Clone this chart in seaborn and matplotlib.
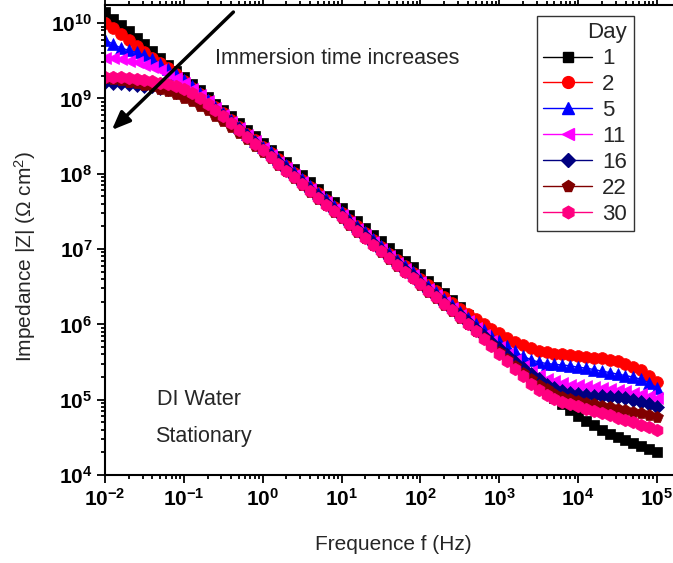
import numpy as np
import pandas as pd
import matplotlib
matplotlib.use('Agg')
import matplotlib.pyplot as plt
from matplotlib.ticker import FixedLocator, FuncFormatter, LogLocator, NullFormatter
from matplotlib.lines import Line2D
import seaborn as sns

# ── Data: 10 points / decade, 10 mHz .. 100 kHz ─────────────
freq_hz = np.logspace(-2, 5, 71)

# log10 |Z|
logz_day1 = [10.15, 10.06, 9.98, 9.89, 9.80, 9.72, 9.63, 9.54, 9.45, 9.37,
             9.28, 9.19, 9.11, 9.02, 8.93, 8.85, 8.76, 8.67, 8.58, 8.50,
             8.41, 8.32, 8.24, 8.15, 8.06, 7.98, 7.89, 7.80, 7.71, 7.63,
             7.54, 7.45, 7.37, 7.28, 7.19, 7.11, 7.02, 6.93, 6.84, 6.76,
             6.67, 6.58, 6.50, 6.41, 6.32, 6.23, 6.13, 6.03, 5.93, 5.82,
             5.72, 5.61, 5.51, 5.40, 5.30, 5.20, 5.11, 5.02, 4.94, 4.86,
             4.78, 4.72, 4.66, 4.60, 4.55, 4.50, 4.46, 4.42, 4.38, 4.34, 4.31]
logz_day2 = [10.00, 9.93, 9.86, 9.78, 9.70, 9.62, 9.54, 9.47, 9.40, 9.32,
             9.23, 9.14, 9.06, 8.97, 8.88, 8.80, 8.71, 8.62, 8.53, 8.45,
             8.36, 8.28, 8.19, 8.10, 8.01, 7.92, 7.83, 7.74, 7.65, 7.56,
             7.48, 7.39, 7.30, 7.21, 7.12, 7.03, 6.94, 6.85, 6.77, 6.68,
             6.60, 6.52, 6.44, 6.36, 6.29, 6.21, 6.14, 6.07, 6.00, 5.94,
             5.89, 5.82, 5.76, 5.72, 5.68, 5.65, 5.63, 5.61, 5.60, 5.59,
             5.58, 5.57, 5.56, 5.55, 5.53, 5.51, 5.48, 5.44, 5.39, 5.32, 5.24]
logz_day5 = [9.78, 9.72, 9.67, 9.64, 9.61, 9.57, 9.52, 9.46, 9.39, 9.32,
             9.24, 9.16, 9.07, 8.98, 8.89, 8.80, 8.71, 8.62, 8.53, 8.44,
             8.36, 8.29, 8.20, 8.11, 8.02, 7.93, 7.84, 7.75, 7.66, 7.57,
             7.49, 7.40, 7.31, 7.22, 7.13, 7.04, 6.95, 6.86, 6.77, 6.69,
             6.60, 6.51, 6.43, 6.34, 6.26, 6.17, 6.08, 6.00, 5.92, 5.85,
             5.78, 5.71, 5.64, 5.58, 5.53, 5.50, 5.48, 5.47, 5.46, 5.45,
             5.43, 5.42, 5.40, 5.38, 5.36, 5.34, 5.32, 5.30, 5.27, 5.22, 5.16]
logz_day11 = [9.54, 9.53, 9.52, 9.50, 9.48, 9.45, 9.42, 9.38, 9.33, 9.27,
              9.20, 9.12, 9.04, 8.96, 8.87, 8.78, 8.69, 8.61, 8.52, 8.43,
              8.34, 8.25, 8.16, 8.07, 7.98, 7.89, 7.80, 7.71, 7.62, 7.53,
              7.45, 7.36, 7.27, 7.18, 7.09, 7.00, 6.91, 6.82, 6.73, 6.65,
              6.56, 6.47, 6.39, 6.30, 6.22, 6.13, 6.04, 5.95, 5.86, 5.78,
              5.70, 5.61, 5.53, 5.45, 5.38, 5.33, 5.28, 5.25, 5.22, 5.20,
              5.19, 5.18, 5.17, 5.16, 5.14, 5.13, 5.11, 5.09, 5.07, 5.05, 5.02]
logz_day16 = [9.22, 9.21, 9.20, 9.19, 9.18, 9.17, 9.16, 9.14, 9.12, 9.09,
              9.06, 9.02, 8.97, 8.91, 8.84, 8.76, 8.68, 8.59, 8.50, 8.41,
              8.32, 8.24, 8.15, 8.06, 7.97, 7.88, 7.79, 7.70, 7.61, 7.52,
              7.44, 7.35, 7.26, 7.17, 7.08, 6.99, 6.90, 6.81, 6.72, 6.64,
              6.55, 6.46, 6.38, 6.29, 6.21, 6.12, 6.03, 5.94, 5.85, 5.76,
              5.68, 5.59, 5.50, 5.42, 5.34, 5.27, 5.20, 5.15, 5.11, 5.09,
              5.07, 5.06, 5.05, 5.05, 5.04, 5.03, 5.02, 5.00, 4.97, 4.94, 4.90]
logz_day22 = [9.27, 9.26, 9.24, 9.22, 9.20, 9.18, 9.16, 9.13, 9.10, 9.06,
              9.01, 8.96, 8.90, 8.84, 8.77, 8.70, 8.62, 8.54, 8.46, 8.37,
              8.29, 8.21, 8.12, 8.03, 7.94, 7.85, 7.76, 7.67, 7.58, 7.49,
              7.41, 7.32, 7.23, 7.14, 7.05, 6.96, 6.87, 6.78, 6.69, 6.61,
              6.52, 6.43, 6.35, 6.26, 6.18, 6.09, 6.00, 5.91, 5.82, 5.72,
              5.63, 5.54, 5.45, 5.36, 5.28, 5.20, 5.14, 5.08, 5.04, 5.01,
              4.98, 4.96, 4.94, 4.92, 4.90, 4.88, 4.86, 4.84, 4.82, 4.80, 4.77]
logz_day30 = [9.29, 9.29, 9.28, 9.27, 9.26, 9.25, 9.23, 9.21, 9.19, 9.16,
              9.12, 9.07, 9.01, 8.93, 8.85, 8.76, 8.67, 8.58, 8.49, 8.40,
              8.31, 8.22, 8.13, 8.04, 7.95, 7.86, 7.77, 7.68, 7.59, 7.50,
              7.42, 7.33, 7.24, 7.15, 7.06, 6.97, 6.88, 6.79, 6.70, 6.62,
              6.53, 6.44, 6.36, 6.27, 6.19, 6.10, 6.01, 5.91, 5.81, 5.71,
              5.61, 5.51, 5.41, 5.31, 5.21, 5.13, 5.06, 5.01, 4.97, 4.94,
              4.91, 4.88, 4.85, 4.82, 4.79, 4.76, 4.73, 4.70, 4.67, 4.64, 4.60]

days = ['1', '2', '5', '11', '16', '22', '30']
series = [logz_day1, logz_day2, logz_day5, logz_day11, logz_day16, logz_day22, logz_day30]
colors = ['#000000', '#FF0000', '#0000FF', '#FF00FF', '#000080', '#800000', '#FF0080']
markers = ['s', 'o', '^', '<', 'D', 'p', 'h']
msizes = [7.5, 8.5, 8.5, 8.5, 7.0, 8.5, 9.0]

# ── Style ──────────────────────────────────────────────────
sns.set_style('ticks')
plt.rcParams['font.family'] = ['Liberation Sans', 'DejaVu Sans']
plt.rcParams['mathtext.fontset'] = 'custom'
plt.rcParams['mathtext.rm'] = 'Liberation Sans'
plt.rcParams['mathtext.bf'] = 'Liberation Sans:bold'
plt.rcParams['mathtext.it'] = 'Liberation Sans:italic'

fig = plt.figure(figsize=(6.73, 5.63), dpi=100)
ax = fig.add_axes([105 / 673, 88 / 563, 568 / 673, 470 / 563])

for day, lz, c, m, ms in zip(days, series, colors, markers, msizes):
    df = pd.DataFrame({'f': freq_hz, 'z': 10 ** np.array(lz)})
    sns.lineplot(data=df, x='f', y='z', ax=ax, color=c, marker=m,
                 markersize=ms, markeredgecolor=c, markeredgewidth=0.5,
                 linewidth=1, sort=False, legend=False)

ax.set_xscale('log')
ax.set_yscale('log')
ax.set_xlim(1e-2, 10 ** 5.203)
ax.set_ylim(1e4, 10 ** 10.24)

bold_pow = FuncFormatter(lambda v, p: r'$\mathbf{10^{%d}}$' % round(np.log10(v)))
ax.xaxis.set_major_locator(FixedLocator([10.0 ** k for k in range(-2, 6)]))
ax.yaxis.set_major_locator(FixedLocator([10.0 ** k for k in range(4, 11)]))
ax.xaxis.set_major_formatter(bold_pow)
ax.yaxis.set_major_formatter(bold_pow)
for axis in (ax.xaxis, ax.yaxis):
    axis.set_minor_locator(LogLocator(base=10, subs=np.arange(2, 10), numticks=30))
    axis.set_minor_formatter(NullFormatter())

ax.tick_params(which='both', direction='out', top=True, right=False,
               width=1.3, colors='black', labelsize=15, pad=3)
ax.tick_params(which='major', length=6)
ax.tick_params(which='minor', length=3)
for side in ('left', 'bottom', 'top'):
    ax.spines[side].set_linewidth(1.5)
    ax.spines[side].set_color('black')
ax.spines['right'].set_visible(False)

ax.set_xlabel('Frequence f (Hz)', fontsize=15)
ax.set_ylabel('Impedance |Z| (Ω cm$^2$)', fontsize=15)
ax.xaxis.set_label_coords(0.507, -0.128)
ax.yaxis.set_label_coords(-0.118, 0.464)

# ── Annotations ────────────────────────────────────────────
ax.annotate('', xy=(0.012, 0.734), xytext=(0.226, 0.985),
            xycoords='axes fraction', textcoords='axes fraction',
            arrowprops=dict(arrowstyle='-|>,head_length=1.1,head_width=0.45',
                            color='black', lw=2.5, shrinkA=0, shrinkB=0))
ax.text(0.194, 0.887, 'Immersion time increases', transform=ax.transAxes,
        fontsize=15.5, va='center', ha='left')
ax.text(0.092, 0.160, 'DI Water', transform=ax.transAxes,
        fontsize=15.5, va='center', ha='left')
ax.text(0.088, 0.081, 'Stationary', transform=ax.transAxes,
        fontsize=15.5, va='center', ha='left')

# ── Legend ─────────────────────────────────────────────────
handles = [Line2D([], [], color=c, marker=m, markersize=ms, markeredgecolor=c,
                  linewidth=1) for c, m, ms in zip(colors, markers, msizes)]
leg = ax.legend(handles, days, title='Day', loc='upper right',
                bbox_to_anchor=(0.931, 0.977), borderaxespad=0,
                fontsize=16, title_fontsize=16, alignment='right',
                frameon=True, fancybox=False, edgecolor='black',
                handlelength=2.2, handletextpad=0.45, labelspacing=0.22,
                borderpad=0.3)
leg.get_frame().set_linewidth(1.0)

fig.savefig('out.png', dpi=100)
